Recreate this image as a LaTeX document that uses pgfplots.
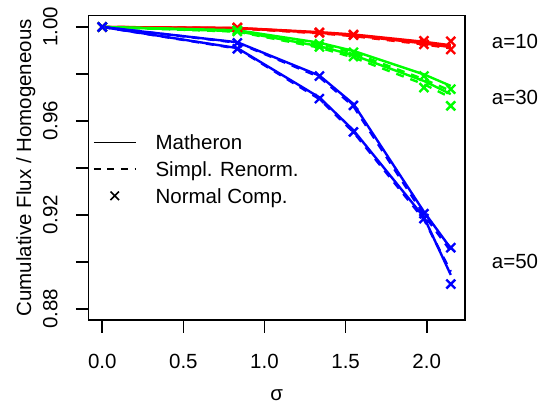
\documentclass[border=0pt]{standalone}
\usepackage{pgfplots}
\usepackage{pgfplotstable}
\pgfplotsset{compat=1.18}
\usepackage{fontspec}
\setmainfont{Liberation Sans}
\newcommand\rf{\fontsize{20.5bp}{24bp}\selectfont}
\definecolor{Rred}{RGB}{255,0,0}
\definecolor{Rgreen}{RGB}{0,255,0}
\definecolor{Rblue}{RGB}{0,0,255}

\pgfplotstableread{
x      mA     sA     nA     mB     sB     nB
0      1      1      1      1      1      1
0.8326 0.9996 0.9995 0.9998 0.9995 0.9994 0.9996
1.3386 0.9978 0.9976 0.9977 0.9975 0.9973 0.9975
1.5485 0.9968 0.9966 0.9968 0.9964 0.9961 0.9965
1.9829 0.9937 0.9933 0.9941 0.9930 0.9926 0.9926
2.1483 0.9922 0.9917 0.9939 0.9914 0.9909 0.9904
}\tabred

\pgfplotstableread{
x      mA     sA     nA     mB     sB     nB
0      1      1      1      1      1      1
0.8326 0.9986 0.9985 0.9986 0.9982 0.9980 0.9981
1.3386 0.9933 0.9928 0.9928 0.9918 0.9912 0.9915
1.5485 0.9898 0.9890 0.9892 0.9880 0.9870 0.9874
1.9829 0.9798 0.9777 0.9791 0.9770 0.9756 0.9742
2.1483 0.9749 0.9728 0.9735 0.9714 0.9699 0.9664
}\tabgreen

\pgfplotstableread{
x      mA     sA     nA     mB     sB     nB
0      1      1      1      1      1      1
0.8326 0.9935 0.9933 0.9932 0.9910 0.9908 0.9907
1.3386 0.9793 0.9787 0.9791 0.9700 0.9693 0.9695
1.5485 0.9672 0.9662 0.9666 0.9560 0.9552 0.9553
1.9829 0.9213 0.9200 0.9205 0.9190 0.9180 0.9184
2.1483 0.9057 0.9045 0.9060 0.8944 0.8958 0.8905
}\tabblue

\begin{document}
\begin{tikzpicture}[x=1bp,y=1bp]
\useasboundingbox (0,0) rectangle (541,411);
\begin{axis}[
  at={(88.3bp,91bp)}, anchor=south west,
  scale only axis, width=376.7bp, height=304.3bp,
  xmin=-0.086, xmax=2.236, ymin=0.8752, ymax=1.0048,
  clip=false,
  axis line style={line width=1.6bp},
  tick style={line width=1.6bp, black},
  tick align=outside, major tick length=12.5bp,
  xtick pos=bottom, ytick pos=left,
  xtick={0,0.5,1,1.5,2},
  xticklabels={0.0,0.5,1.0,1.5,2.0},
  ytick={0.88,0.90,0.92,0.94,0.96,0.98,1.00},
  yticklabels={0.88,,0.92,,0.96,,1.00},
  ticklabel style={font=\rf, inner sep=0pt},
  xticklabel style={anchor=base}, xticklabel shift=35.5bp,
  yticklabel style={rotate=90, anchor=base}, yticklabel shift=18.5bp,
  xlabel={σ}, ylabel={Cumulative Flux / Homogeneous},
  label style={font=\rf},
  xlabel style={at={(axis description cs:0.5,-0.2629)}, anchor=base},
  ylabel style={at={(axis description cs:-0.1521,0.5)}, anchor=base},
  legend cell align=left,
  legend style={at={(axis cs:-0.0573,0.95652)}, anchor=north west,
    draw=none, fill=none, inner sep=0pt, outer sep=0pt,
    row sep=0pt, column sep=19bp, font=\rf,
    nodes={inner sep=0pt, text height=20.7bp, text depth=6bp}},
  legend image code/.code={\draw[mark repeat=2,mark phase=2,#1] plot coordinates {(0bp,0bp) (21bp,0bp) (42bp,0bp)};},
  every axis plot/.append style={line width=2.4bp},
  dsh/.style={dash pattern=on 8bp off 7bp},
  mk/.style={only marks, mark=x, mark size=6.3bp, mark options={solid, line width=2.4bp}},
]
\addlegendimage{black, line width=1.6bp}
\addlegendentry{Matheron}
\addlegendimage{black, line width=1.6bp, dash pattern=on 6.8bp off 6.8bp}
\addlegendentry{Simpl. Renorm.}
\addlegendimage{black, only marks, mark=x, mark size=6bp, mark options={line width=1.6bp}}
\addlegendentry{Normal Comp.}

% red a=10
\addplot[Rred, forget plot] table[x=x,y=mA] {\tabred};
\addplot[Rred, dsh, forget plot] table[x=x,y=sA] {\tabred};
\addplot[Rred, mk, forget plot] table[x=x,y=nA] {\tabred};
\addplot[Rred, forget plot] table[x=x,y=mB] {\tabred};
\addplot[Rred, dsh, forget plot] table[x=x,y=sB] {\tabred};
\addplot[Rred, mk, forget plot] table[x=x,y=nB] {\tabred};
% green a=30
\addplot[Rgreen, forget plot] table[x=x,y=mA] {\tabgreen};
\addplot[Rgreen, dsh, forget plot] table[x=x,y=sA] {\tabgreen};
\addplot[Rgreen, mk, forget plot] table[x=x,y=nA] {\tabgreen};
\addplot[Rgreen, forget plot] table[x=x,y=mB] {\tabgreen};
\addplot[Rgreen, dsh, forget plot] table[x=x,y=sB] {\tabgreen};
\addplot[Rgreen, mk, forget plot] table[x=x,y=nB] {\tabgreen};
% blue a=50
\addplot[Rblue, forget plot] table[x=x,y=mA] {\tabblue};
\addplot[Rblue, dsh, forget plot] table[x=x,y=sA] {\tabblue};
\addplot[Rblue, mk, forget plot] table[x=x,y=nA] {\tabblue};
\addplot[Rblue, forget plot] table[x=x,y=mB] {\tabblue};
\addplot[Rblue, dsh, forget plot] table[x=x,y=sB] {\tabblue};
\addplot[Rblue, mk, forget plot] table[x=x,y=nB] {\tabblue};

\node[anchor=base west, inner sep=0pt, font=\rf] at (axis cs:2.4007,0.99098) {a=10};
\node[anchor=base west, inner sep=0pt, font=\rf] at (axis cs:2.4007,0.96701) {a=30};
\node[anchor=base west, inner sep=0pt, font=\rf] at (axis cs:2.4007,0.89712) {a=50};
\end{axis}
\end{tikzpicture}
\end{document}
